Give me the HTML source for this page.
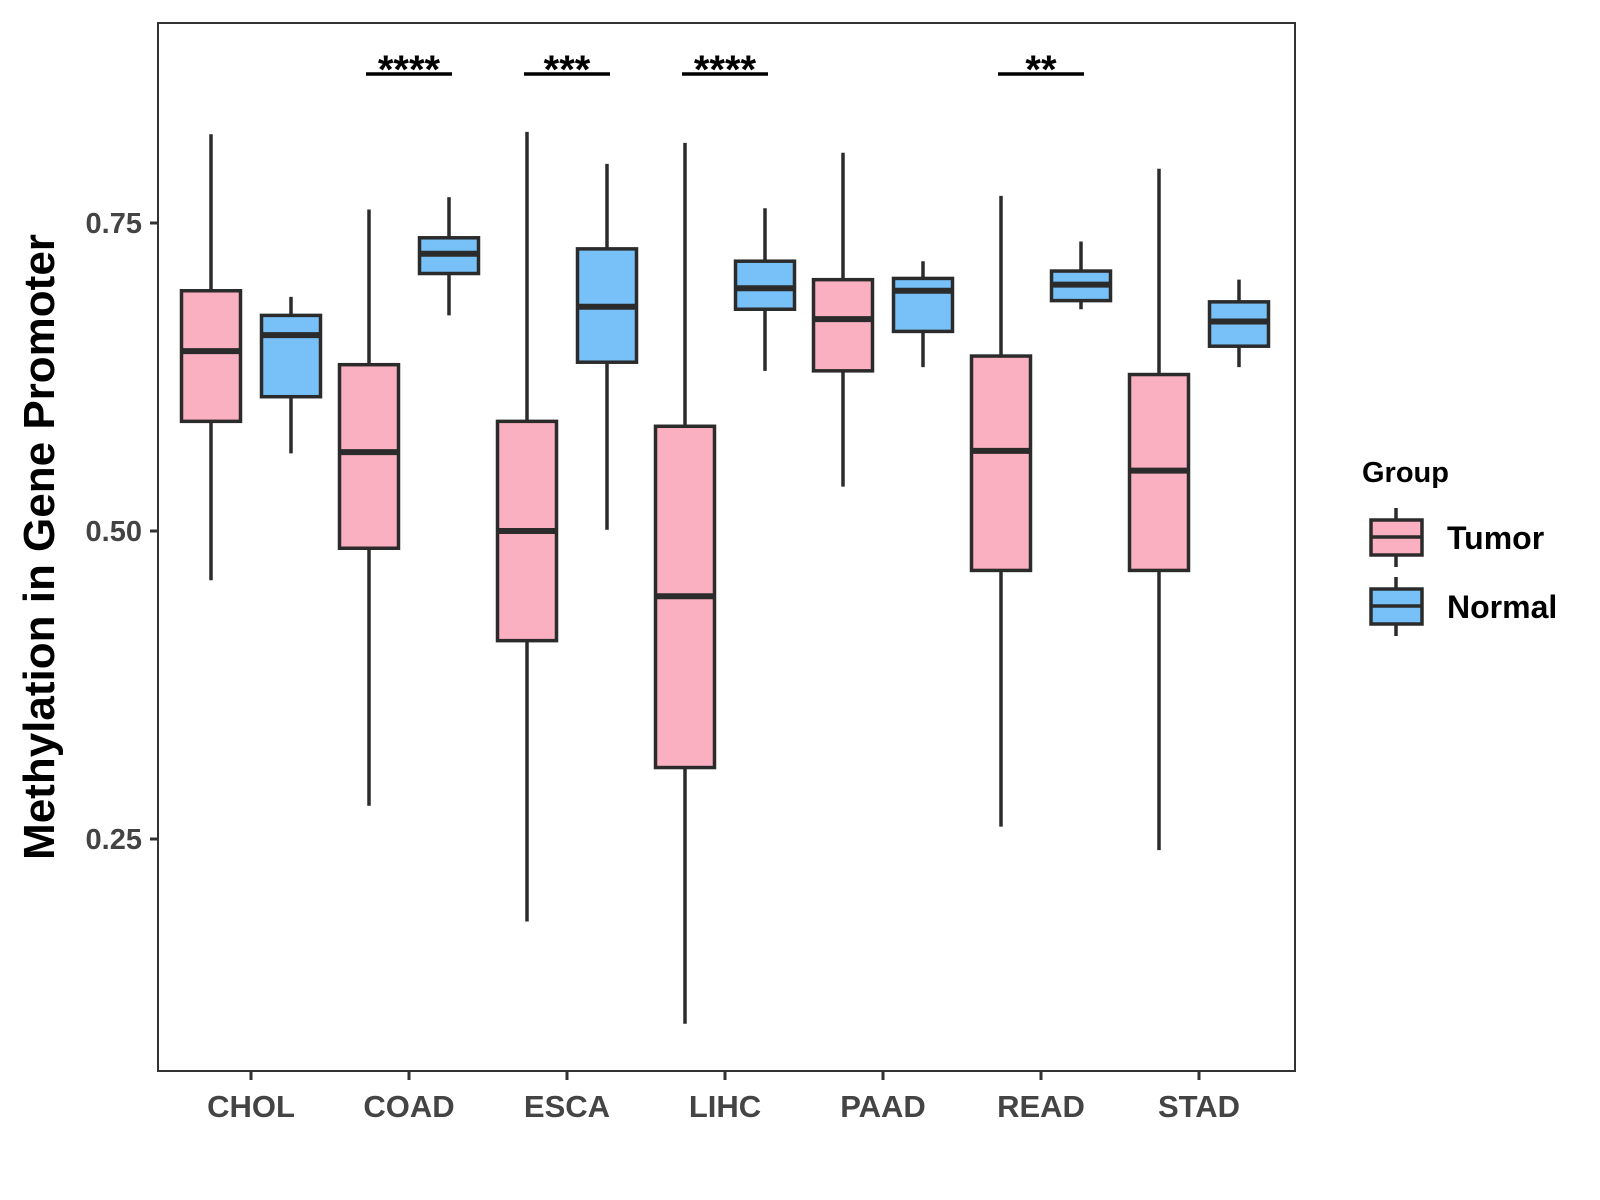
<!DOCTYPE html>
<html><head><meta charset="utf-8"><style>
body{margin:0;background:#fff}
svg{display:block;font-family:"Liberation Sans",Arial,sans-serif}
</style></head><body>
<svg id="chart" width="1600" height="1200" viewBox="0 0 1600 1200">
<rect x="0" y="0" width="1600" height="1200" fill="#fff"/>
<rect x="158" y="23" width="1137" height="1048" fill="none" stroke="#333" stroke-width="2"/>
<g id="marks"></g>
<text transform="translate(54,547) rotate(-90)" text-anchor="middle" font-size="44" font-weight="bold" fill="#000">Methylation in Gene Promoter</text>
<g>
<text x="1362" y="482" font-size="29" font-weight="bold" fill="#000">Group</text>
<g>
<line x1="1396" y1="508" x2="1396" y2="567" stroke="#2b2b2b" stroke-width="3.5"/>
<rect x="1371" y="520" width="51" height="35" fill="#FBB0C1" stroke="#2b2b2b" stroke-width="3.5"/>
<line x1="1371" y1="537" x2="1422" y2="537" stroke="#2b2b2b" stroke-width="3.5"/>
<text x="1447" y="549" font-size="32" font-weight="bold" fill="#000">Tumor</text>
</g>
<g>
<line x1="1396" y1="577" x2="1396" y2="636" stroke="#2b2b2b" stroke-width="3.5"/>
<rect x="1371" y="589" width="51" height="35" fill="#77C1F8" stroke="#2b2b2b" stroke-width="3.5"/>
<line x1="1371" y1="606" x2="1422" y2="606" stroke="#2b2b2b" stroke-width="3.5"/>
<text x="1447" y="618" font-size="32" font-weight="bold" fill="#000">Normal</text>
</g>
</g>
</svg>
<script>
const categories=["CHOL","COAD","ESCA","LIHC","PAAD","READ","STAD"];
const tumorStats=[[0.460,0.589,0.646,0.695,0.822],[0.277,0.486,0.564,0.635,0.761],[0.183,0.411,0.500,0.589,0.824],[0.100,0.308,0.447,0.585,0.815],[0.536,0.630,0.672,0.704,0.807],[0.260,0.468,0.565,0.642,0.772],[0.241,0.468,0.549,0.627,0.794]];
const normalStats=[[0.563,0.609,0.659,0.675,0.690],[0.675,0.709,0.725,0.738,0.771],[0.501,0.637,0.682,0.729,0.798],[0.630,0.680,0.697,0.719,0.762],[0.633,0.662,0.695,0.705,0.719],[0.680,0.687,0.700,0.711,0.735],[0.633,0.650,0.670,0.686,0.704]];
const significance=["","****","***","****","","**",""];
const yTicks=[0.25,0.50,0.75];
const yTickLabels=["0.25","0.50","0.75"];

const NS="http://www.w3.org/2000/svg";
const g=document.getElementById('marks');
function y(v){return 223+(0.75-v)*1232;}
function x(i){return 251+i*158;}
function el(tag,attrs,parent){const e=document.createElementNS(NS,tag);for(const k in attrs)e.setAttribute(k,attrs[k]);(parent||g).appendChild(e);return e;}
yTicks.forEach((t,i)=>{
  const tk=el('line',{x1:150,x2:158,y1:y(t),y2:y(t),stroke:'#333','stroke-width':3});
  
  
  const tl=el('text',{x:142,y:y(t)+10,'text-anchor':'end','font-size':29,'font-weight':'bold',fill:'#444'});
  tl.textContent=yTickLabels[i];
  
  
});
function box(cx,s,fill,name){
  const grp=el('g',{});
  
  
  const w=59,L=cx-w/2;
  el('line',{x1:cx,x2:cx,y1:y(s[4]),y2:y(s[0]),stroke:'#2b2b2b','stroke-width':3.5},grp);
  el('rect',{x:L,y:y(s[3]),width:w,height:y(s[1])-y(s[3]),fill:fill,stroke:'#2b2b2b','stroke-width':3.5},grp);
  el('line',{x1:L,x2:L+w,y1:y(s[2]),y2:y(s[2]),stroke:'#2b2b2b','stroke-width':6},grp);
}
categories.forEach((c,i)=>{
  const cx=x(i);
  const tk=el('line',{x1:cx,x2:cx,y1:1071,y2:1080,stroke:'#333','stroke-width':3});
  
  
  const tl=el('text',{x:cx,y:1117,'text-anchor':'middle','font-size':31,'font-weight':'bold',fill:'#444'});
  tl.textContent=c;
  
  
  box(cx-40,tumorStats[i],'#FBB0C1','box-tumor-'+c.toLowerCase());
  box(cx+40,normalStats[i],'#77C1F8','box-normal-'+c.toLowerCase());
  if(significance[i]){
    const sl=el('line',{x1:cx-43,x2:cx+43,y1:74,y2:74,stroke:'#000','stroke-width':3.5});
    
    
    const st=el('text',{x:cx,y:83,'text-anchor':'middle','font-size':40,'font-weight':'bold',fill:'#000'});
    st.textContent=significance[i];
    
    
  }
});
</script>
</body></html>
